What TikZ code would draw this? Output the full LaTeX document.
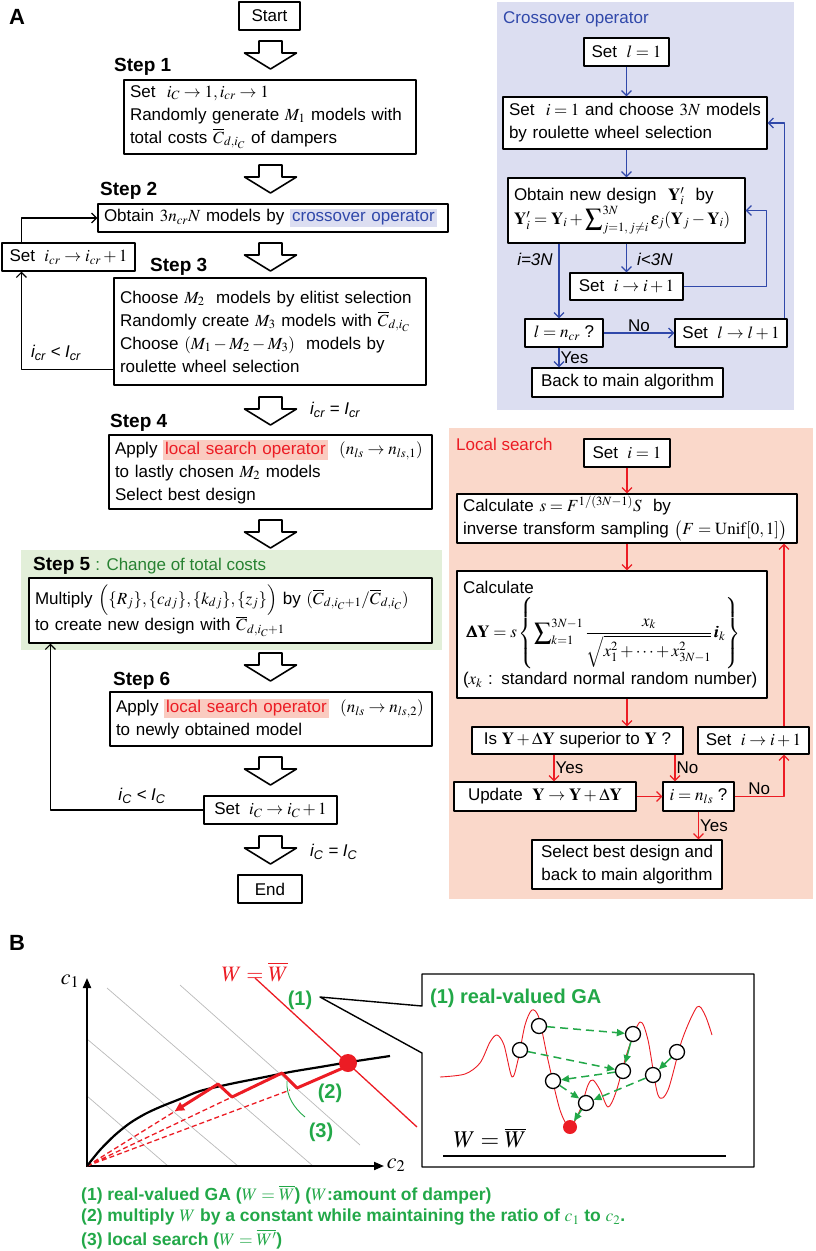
\documentclass[tikz,border=0pt]{standalone}
\usepackage{amsmath}
\usepackage{mathptmx}
\usepackage[no-math]{fontspec}
\setmainfont{Liberation Sans}
\usetikzlibrary{arrows.meta}
\definecolor{cxbg}{RGB}{220,222,241}
\definecolor{cxblue}{RGB}{48,72,170}
\definecolor{lsbg}{RGB}{250,216,202}
\definecolor{lshl}{RGB}{250,203,192}
\definecolor{lsred}{RGB}{236,28,36}
\definecolor{stbg}{RGB}{226,239,217}
\definecolor{stgreen}{RGB}{40,130,50}
\definecolor{gagreen}{RGB}{34,168,72}
\newcommand{\fs}{\fontsize{17}{23}\selectfont}
\newcommand{\hlx}[1]{{\setlength{\fboxsep}{2pt}\colorbox{cxbg}{\color{cxblue}#1}}}
\newcommand{\hll}[1]{{\setlength{\fboxsep}{2pt}\colorbox{lshl}{\color{lsred}#1}}}
\newcommand{\Cb}[1]{\overline{C}_{d,#1}}
\begin{document}
\begin{tikzpicture}[x=1pt, y=-1pt,
	line join=round,
	every node/.style={inner sep=1pt},
	box/.style={draw, fill=white, line width=1.2pt, inner xsep=6pt, inner ysep=0pt, align=left, font=\fs},
	cbox/.style={box, align=center},
	stp/.style={anchor=west, font=\fontsize{19}{22}\selectfont\bfseries},
	lbl/.style={font=\fs\itshape},
	txt/.style={font=\fs},
	ln/.style={line width=1.2pt, -{Straight Barb[length=5pt, width=10pt]}},
	bln/.style={ln, draw=cxblue},
	rln/.style={ln, draw=lsred},
	gar/.style={gagreen, line width=1.5pt, -{Triangle[length=8pt, width=7pt]}},
	gda/.style={gar, dash pattern=on 8pt off 5pt},
	dot/.style={circle, draw, fill=white, line width=1.3pt, minimum size=15, inner sep=0pt},
	grn/.style={text=gagreen, font=\fontsize{20}{22}\selectfont\bfseries},
	pics/bigarr/.style={code={\draw[line width=1.6pt, fill=white] (-11.5,0) -- (11.5,0) -- (11.5,12) -- (26,12) -- (0,28) -- (-26,12) -- (-11.5,12) -- cycle;}}
	]
\useasboundingbox (0,0) rectangle (816,1251);

\fill[stbg] (21,550) rectangle (442,650);
\fill[cxbg] (497,2) rectangle (794,410);
\fill[lsbg] (449,428) rectangle (813,899);

\node[font=\fontsize{22}{24}\selectfont\bfseries] at (17,17) {A};
\node[cbox, minimum width=61, minimum height=28] (start) at (269.5,16) {Start};
\pic at (270.5,41) {bigarr};
\node[stp] at (113,67) {Step 1};
\node[box, text width=280, minimum height=74] (s1) at (270,117)
	{Set \ $i_C\rightarrow 1, i_{cr}\rightarrow 1$\\
	Randomly generate $M_1$ models with\\
	total costs $\Cb{i_C}$ of dampers};
\pic at (270.5,165) {bigarr};
\node[stp] at (99,191) {Step 2};
\node[box, text width=338, minimum height=28] (s2) at (273,218)
	{Obtain $3n_{cr}N$ models by \hlx{crossover operator}};
\node[cbox, minimum width=133, minimum height=28] (icr) at (68.5,257) {Set \ $i_{cr}\rightarrow i_{cr}+1$};
\pic at (270.5,243) {bigarr};
\node[stp] at (149,267) {Step 3};
\node[box, text width=300, minimum height=107] (s3) at (270,331.5)
	{Choose $M_2$ \ models by elitist selection\\
	Randomly create $M_3$ models with $\Cb{i_C}$\\
	Choose $(M_1-M_2-M_3)$ \ models by\\
	roulette wheel selection};
\pic at (270.5,397) {bigarr};
\node[lbl, anchor=west] at (309,410) {i\textsubscript{cr} = I\textsubscript{cr}};
\node[stp] at (109,423) {Step 4};
\node[box, text width=311, minimum height=74] (s4) at (270.5,472)
	{Apply \hll{local search operator} \ $(n_{ls}\rightarrow n_{ls,1})$\\
	to lastly chosen $M_2$ models\\
	Select best design};
\pic at (270.5,520) {bigarr};
\node[stp] at (32,566) {Step 5 {\mdseries\fontsize{17}{22}\selectfont\color{stgreen}: Change of total costs}};
\node[box, text width=391, minimum height=65] (s5) at (230.5,610.5)
	{Multiply $\Bigl(\{R_j\},\{c_{dj}\},\{k_{dj}\},\{z_j\}\Bigr)$ by $(\Cb{i_C+1}/\Cb{i_C})$\\
	to create new design with $\Cb{i_C+1}$};
\pic at (270.5,653) {bigarr};
\node[stp] at (112,681) {Step 6};
\node[box, text width=310, minimum height=54] (s6) at (271,719)
	{Apply \hll{local search operator} \ $(n_{ls}\rightarrow n_{ls,2})$\\
	to newly obtained model};
\pic at (270.5,757) {bigarr};
\node[cbox, minimum width=133, minimum height=28] (ic) at (270.5,810) {Set \ $i_C\rightarrow i_C+1$};
\pic at (270.5,836) {bigarr};
\node[lbl, anchor=west] at (309,852) {i\textsubscript{C} = I\textsubscript{C}};
\node[cbox, minimum width=64, minimum height=28] (end) at (270,889) {End};

\draw[ln] ([xshift=20pt]icr.north west) |- (s2.west);
\draw[ln] ([yshift=16pt]s3.south west) -| ([xshift=20pt]icr.south west);
\node[lbl] at (56,353) {i\textsubscript{cr} < I\textsubscript{cr}};
\draw[ln] (ic.west) -| ([xshift=22pt]s5.south west);
\node[lbl] at (142,796) {i\textsubscript{C} < I\textsubscript{C}};

\node[txt, anchor=west, text=cxblue] at (502,19) {Crossover operator};
\node[cbox, minimum width=85, minimum height=28] (xl1) at (626.5,52) {Set \ $l=1$};
\node[box, text width=252, minimum height=52] (xi1) at (635,123)
	{Set \ $i=1$ and choose $3N$ models\\
	by roulette wheel selection};
\node[box, text width=225, minimum height=65] (xob) at (626.5,210.5)
	{Obtain new design \ $\mathbf{Y}_i'$ \ by\\
	$\mathbf{Y}_i'=\mathbf{Y}_i+\displaystyle\sum\nolimits_{j=1,\,j\neq i}^{3N}\varepsilon_j(\mathbf{Y}_j-\mathbf{Y}_i)$};
\node[cbox, minimum width=113, minimum height=27] (xsi) at (626.5,286.5) {Set \ $i\rightarrow i+1$};
\node[cbox, minimum width=78, minimum height=28] (xlq) at (564,333) {$l=n_{cr}$ ?};
\node[cbox, minimum width=112, minimum height=28] (xsl) at (731,333) {Set \ $l\rightarrow l+1$};
\node[cbox, minimum width=191, minimum height=29] (xbk) at (627.5,382.5) {Back to main algorithm};
\draw[bln] (xl1) -- (xl1 |- xi1.north);
\draw[bln] (xi1.south -| xob.north) -- (xob.north);
\draw[bln] (xob.south -| xsi.north) -- (xsi.north);
\node[lbl, anchor=west] at (636,259) {i<3N};
\draw[bln] ([xshift=-5pt]xlq.north |- xob.south) -- ([xshift=-5pt]xlq.north);
\node[lbl] at (535,259) {i=3N};
\draw[bln] (xsi.east) -- ++(83,0) |- (xob.east);
\draw[bln] (xlq.east) -- node[txt, above] {No} (xsl.west);
\draw[bln] ([xshift=-3pt]xsl.north east) |- (xi1.east);
\draw[bln] ([xshift=-5pt]xlq.south) -- node[txt, right] {Yes} ([xshift=-5pt]xlq.south |- xbk.north);

\node[txt, anchor=west, text=lsred] at (455,444) {Local search};
\node[cbox, minimum width=86, minimum height=28] (ls1) at (627,453) {Set \ $i=1$};
\node[box, text width=328, minimum height=49] (lss) at (627,518.5)
	{Calculate $s=F^{1/(3N-1)}S$ \ by\\
	inverse transform sampling $\bigl(F=\mathrm{Unif}[0,1]\bigr)$};
\node[box, text width=298, minimum height=127] (lsd) at (612,634.5)
	{Calculate\\[3pt]
	\hspace*{4pt}$\displaystyle\pmb{\Delta}\mathbf{Y}=s\left\{\sum\nolimits_{k=1}^{3N-1}\frac{x_k}{\sqrt{x_1^2+\cdots+x_{3N-1}^2}}\,\pmb{i}_k\right\}$\\[2pt]
	($x_k$ : standard normal random number)};
\node[cbox, minimum width=211, minimum height=27] (lsy) at (577.5,740.5) {Is $\mathbf{Y}+\Delta\mathbf{Y}$ superior to $\mathbf{Y}$ ?};
\node[cbox, minimum width=111, minimum height=27] (lssi) at (753.5,740.5) {Set \ $i\rightarrow i+1$};
\node[cbox, minimum width=182, minimum height=29] (lsup) at (545,796.5) {Update \ $\mathbf{Y}\rightarrow\mathbf{Y}+\Delta\mathbf{Y}$};
\node[cbox, minimum width=71, minimum height=29] (lsq) at (698.5,796.5) {$i=n_{ls}$ ?};
\node[cbox, minimum width=190, minimum height=49] (lssel) at (627,864.5) {Select best design and\\back to main algorithm};
\draw[rln] (ls1) -- (ls1 |- lss.north);
\draw[rln] (lss.south -| ls1) -- (lsd.north -| ls1);
\draw[rln] (lsd.south -| ls1) -- (lsy.north -| ls1);
\draw[rln] ([xshift=9pt]lsup.north |- lsy.south) -- node[txt, right] {Yes} ([xshift=9pt]lsup.north);
\draw[rln] ([xshift=-23.5pt]lsq.north |- lsy.south) -- node[txt, right] {No} ([xshift=-23.5pt]lsq.north);
\draw[rln] (lsup) -- (lsq);
\draw[rln] (lsq.east) -| node[txt, pos=0.25, above] {No} ([xshift=30.5pt]lssi.south);
\draw[rln] ([xshift=30.5pt]lssi.north) -- ([xshift=30.5pt]lssi.north |- lss.south);
\draw[rln] (lsq) -- node[txt, right] {Yes} (lsq |- lssel.north);

\node[font=\fontsize{22}{24}\selectfont\bfseries] at (17,943) {B};
\draw[gray!55, line width=0.7pt] (87,1096) -- (168,1166) (87,1039) -- (238,1166) (107,988) -- (313,1166) (180,985) -- (360,1145);
\draw[line width=1.4pt, fill=white] (320,997) -- (422,1006) -- (422,974) -- (754,974) -- (754,1167) -- (422,1167) -- (422,1053) -- cycle;
\draw[lsred, line width=1.3pt] (255,978) -- (417,1127);
\node[text=lsred, font=\fontsize{22}{24}\selectfont] at (255,972) {$W=\overline{W}$};
\draw[line width=2pt, -{Triangle[length=10pt, width=8pt]}] (87,1167) -- (87,978);
\draw[line width=2pt, -{Triangle[length=10pt, width=8pt]}] (86,1166) -- (384,1166);
\node[font=\fontsize{22}{24}\selectfont] at (70,981) {$c_1$};
\node[font=\fontsize{22}{24}\selectfont] at (396,1165) {$c_2$};
\draw[lsred, line width=1.3pt, dash pattern=on 5pt off 3pt] (87,1166) -- (177,1110) (87,1166) -- (232,1097) (87,1166) -- (290,1090);
\draw[line width=2.2pt] plot[smooth] coordinates {(87,1166) (100,1150) (115,1135) (130,1123) (145,1114) (160,1107) (180,1099) (200,1091) (230,1084) (260,1078) (290,1072) (320,1067) (350,1062) (390,1056)};
\draw[lsred, line width=3pt, -{Triangle[length=9pt, width=9pt]}] (343,1068) -- (297,1088) -- (282,1073) -- (232,1097) -- (218,1084) -- (175,1111);
\fill[lsred] (348,1063) circle[radius=9];
\draw[gagreen, line width=0.9pt] (305,1117) .. controls (294,1108) and (286,1096) .. (287,1081);
\node[grn] at (300,1000) {(1)};
\node[grn] at (330,1093) {(2)};
\node[grn] at (321,1132) {(3)};

\node[grn, anchor=west] at (429,998) {(1) real-valued GA};
\draw[lsred, line width=0.9pt] plot[smooth] coordinates {(440,1077) (465,1074) (480,1063) (490,1042) (497,1035) (504,1045) (512,1077) (518,1060) (525,1025) (532,1010) (539,1018) (548,1060) (560,1110) (570,1127) (580,1110) (588,1085) (593,1080) (600,1090) (608,1107) (616,1092) (628,1050) (640,1022) (648,1040) (658,1095) (668,1090) (682,1040) (697,1007) (705,1015) (712,1035)};
\draw[line width=2.5pt] (443,1156) -- (726,1156);
\node[font=\fontsize{24}{26}\selectfont] at (490,1138) {$W=\overline{W}$};
\node[dot] (g1) at (539,1026) {};
\node[dot] (g2) at (520,1050) {};
\node[dot] (g3) at (633,1034) {};
\node[dot] (g4) at (623,1071) {};
\node[dot] (g5) at (553,1081) {};
\node[dot] (g6) at (586,1103) {};
\node[dot] (g7) at (653,1075) {};
\node[dot] (g8) at (677,1052) {};
\node[circle, fill=lsred, minimum size=14, inner sep=0pt] (gd) at (570,1127) {};
\draw[gda] (g1) -- (g3);
\draw[gda] (g2) -- (g4);
\draw[gar] (g3) -- (g4);
\draw[gda] (g4) -- (g5);
\draw[gda] (g5) -- (g6);
\draw[gar] (g8) -- (g7);
\draw[gda] (g7) -- (g6);
\draw[gar] (g6) -- (gd);

\node[grn, font=\fontsize{17.5}{22}\selectfont\bfseries, anchor=west] at (80,1195) {(1) real-valued GA ($W=\overline{W}$) ($W$:amount of damper)};
\node[grn, font=\fontsize{17.5}{22}\selectfont\bfseries, anchor=west] at (80,1217) {(2) multiply $W$ by a constant while maintaining the ratio of $c_1$ to $c_2$.};
\node[grn, font=\fontsize{17.5}{22}\selectfont\bfseries, anchor=west] at (80,1239) {(3) local search ($W=\overline{W'}$)};
\end{tikzpicture}
\end{document}
